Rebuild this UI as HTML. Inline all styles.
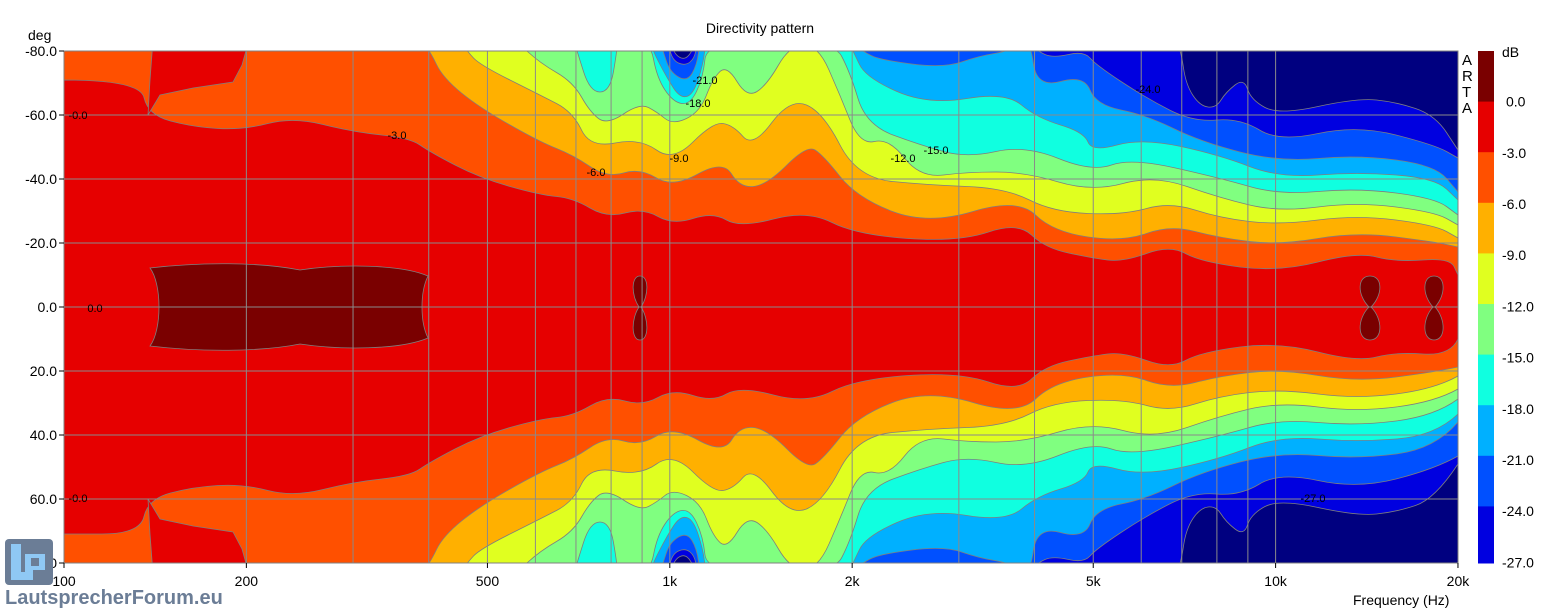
<!DOCTYPE html>
<html><head><meta charset="utf-8">
<style>
html,body{margin:0;padding:0;background:#fff;}
svg{display:block;font-family:"Liberation Sans",Arial,sans-serif;}
</style></head>
<body>
<svg id="s" width="1558" height="614" viewBox="0 0 1558 614" xmlns="http://www.w3.org/2000/svg">
<defs><clipPath id="pc"><rect x="64" y="51" width="1394" height="512"/></clipPath></defs>
<rect x="64" y="51" width="1394" height="512" fill="#000080"/>
<g id="fills" clip-path="url(#pc)"></g>
<g id="grid" stroke="#8a8a8a" stroke-width="1"></g>
<rect x="64" y="51" width="1394" height="512" fill="none" stroke="#808080"/>
<g font-size="11" fill="#000">
<text x="95" y="312" text-anchor="middle">0.0</text>
<text x="78" y="119" text-anchor="middle">-0.0</text>
<text x="78" y="502" text-anchor="middle">-0.0</text>
<text x="397" y="139" text-anchor="middle">-3.0</text>
<text x="596" y="176" text-anchor="middle">-6.0</text>
<text x="679" y="162" text-anchor="middle">-9.0</text>
<text x="903" y="162" text-anchor="middle">-12.0</text>
<text x="936" y="154" text-anchor="middle">-15.0</text>
<text x="698" y="107" text-anchor="middle">-18.0</text>
<text x="705" y="84" text-anchor="middle">-21.0</text>
<text x="1148" y="93" text-anchor="middle">-24.0</text>
<text x="1313" y="502" text-anchor="middle">-27.0</text>
</g>
<text x="760" y="33" text-anchor="middle" font-size="14">Directivity pattern</text>
<text x="28" y="40" font-size="14">deg</text>
<g id="ylab" font-size="14" text-anchor="end"></g>
<g id="xlab" font-size="14" text-anchor="middle"></g>
<text x="1353" y="605" font-size="14">Frequency (Hz)</text>
<text x="1462" y="65" font-size="15">A</text>
<text x="1462" y="81" font-size="15">R</text>
<text x="1462" y="97" font-size="15">T</text>
<text x="1462" y="113" font-size="15">A</text>
<g id="cbar"></g>
<g id="cblab" font-size="14"></g>
<rect x="5" y="539" width="48" height="46" rx="4" fill="#6b7d96"/>
<path d="M11 544 h10 v28 h12 v8 h-22 z" fill="#8fc8f4"/>
<path d="M25 554 h20 v16 h-12 v10 h-8 z" fill="#8fc8f4"/>
<path d="M31 558 h8 v8 h-8 z" fill="#6b7d96"/>
<text x="5" y="604" font-size="20" font-weight="bold" fill="#6b7d96">LautsprecherForum.eu</text>
</svg>
<script>
const NS="http://www.w3.org/2000/svg";
function el(t,a,p){const e=document.createElementNS(NS,t);for(const k in a)e.setAttribute(k,a[k]);p.appendChild(e);return e;}
const levels=[
["#0000e0",[[64,40],[670,40],[675,55],[685,60],[693,50],[694,40],[1175,40],[1181,51],[1186,85],[1200,106],[1216,108],[1226,92],[1244,78],[1251,100],[1279,115],[1357,98],[1396,102],[1435,115],[1458,150]]],
["#0050ff",[[64,40],[668,40],[672,60],[685,66],[695,58],[697,40],[1030,40],[1037,51],[1053,58],[1084,51],[1096,65],[1146,98],[1193,122],[1240,118],[1279,142],[1357,125],[1435,145],[1458,158]]],
["#00b0ff",[[64,40],[660,40],[663,51],[670,72],[687,82],[697,65],[700,40],[850,40],[862,51],[880,60],[944,68],[979,56],[1010,51],[1018,40],[1030,40],[1037,88],[1084,75],[1096,105],[1146,115],[1201,142],[1279,162],[1357,155],[1435,165],[1458,192]]],
["#10ffe0",[[64,40],[650,40],[653,51],[667,78],[680,98],[693,95],[703,65],[706,40],[848,40],[853,51],[866,78],[928,105],[1006,92],[1037,118],[1084,132],[1092,152],[1142,138],[1220,155],[1279,178],[1357,172],[1435,178],[1458,200]]],
["#80ff80",[[64,40],[574,40],[577,51],[590,92],[610,92],[617,51],[617,40],[650,40],[657,78],[673,102],[690,105],[703,78],[707,40],[833,40],[850,72],[866,125],[920,145],[967,158],[1025,145],[1092,172],[1131,158],[1220,178],[1279,195],[1357,188],[1435,198],[1458,215]]],
["#e0ff20",[[64,40],[515,40],[540,63],[573,82],[590,112],[607,125],[640,103],[657,112],[673,125],[700,112],[713,78],[727,65],[747,98],[767,85],[790,45],[818,45],[840,95],[860,145],[889,138],[920,178],[967,172],[1025,172],[1092,192],[1154,175],[1220,198],[1279,212],[1357,202],[1435,212],[1458,225]]],
["#ffb000",[[64,40],[460,40],[467,51],[480,65],[540,95],[573,112],[590,148],[640,138],[673,162],[713,122],[733,125],[753,148],[790,98],[823,112],[857,178],[928,185],[1006,188],[1053,212],[1123,215],[1170,202],[1220,218],[1279,225],[1357,215],[1435,225],[1458,238]]],
["#ff5000",[[64,40],[420,40],[430,51],[443,78],[480,108],[540,142],[573,155],[607,178],[640,168],[673,188],[723,160],[740,188],[767,185],[807,145],[823,155],[857,198],[928,225],[1018,198],[1053,232],[1123,242],[1170,225],[1220,238],[1279,245],[1357,232],[1435,242],[1458,247]]],
["#e60000",[[64,80],[140,80],[148,115],[193,127],[243,130],[293,117],[353,132],[410,138],[430,152],[480,178],[540,195],[573,198],[607,218],[643,208],[673,225],[713,212],[740,228],[807,210],[857,235],[959,242],[1018,222],[1045,248],[1092,258],[1123,262],[1170,245],[1201,262],[1279,272],[1357,252],[1396,262],[1450,258],[1458,275]]]
];
function smooth(pts,start){
  let d=(start?"M":"L")+pts[0][0]+" "+pts[0][1];
  for(let i=1;i<pts.length-1;i++){
    const mx=(pts[i][0]+pts[i+1][0])/2, my=(pts[i][1]+pts[i+1][1])/2;
    d+=` Q${pts[i][0]} ${pts[i][1]} ${mx} ${my}`;
  }
  const l=pts[pts.length-1];d+=` L${l[0]} ${l[1]}`;return d;
}
const F=document.getElementById("fills");
const st={stroke:"#7f7f7f","stroke-width":"0.8"};
for(const [c,pts] of levels){
  const bot=pts.slice().reverse().map(p=>[p[0],614-p[1]]);
  el("path",Object.assign({d:smooth(pts,true)+" "+smooth(bot,false)+" Z",fill:c},st),F);
}
const pocket=[[153,40],[249,40],[242,65],[233,82],[193,88],[160,95],[148,115],[150,80]];
el("polygon",Object.assign({points:pocket.map(p=>p[0]+","+p[1]).join(" "),fill:"#e60000"},st),F);
el("polygon",Object.assign({points:pocket.map(p=>p[0]+","+(614-p[1])).join(" "),fill:"#e60000"},st),F);
el("path",Object.assign({d:"M150 268 C200 262 260 262 300 270 C340 264 400 264 428 276 C420 292 420 322 428 338 C400 350 340 350 300 344 C260 352 200 352 150 346 C162 330 162 284 150 268 Z",fill:"#7a0000"},st),F);
function blob(x,w){el("path",Object.assign({d:`M${x} 276 C${x+w} 276 ${x+w} 295 ${x+1} 307 C${x+w} 319 ${x+w} 340 ${x} 340 C${x-w} 340 ${x-w} 319 ${x-1} 307 C${x-w} 295 ${x-w} 276 ${x} 276 Z`,fill:"#7a0000"},st),F);}
blob(640,9);blob(1370,13);blob(1434,12);
const G=document.getElementById("grid");
const X=f=>64+605.8*Math.log10(f/100);
let fs=[];for(let f=200;f<1000;f+=100)fs.push(f);for(let f=1000;f<10000;f+=1000)fs.push(f);fs.push(10000);
for(const f of fs){const x=X(f);el("line",{x1:x,y1:51,x2:x,y2:563},G);}
for(let d=-60;d<=60;d+=20){const y=307+d*3.2;el("line",{x1:64,y1:y,x2:1458,y2:y},G);}
const YL=document.getElementById("ylab");
for(let d=-80;d<=80;d+=20){const y=307+d*3.2;const t=el("text",{x:57,y:y+5},YL);t.textContent=d.toFixed(1);el("line",{x1:59,y1:y,x2:64,y2:y,stroke:"#000"},YL);}
const XL=document.getElementById("xlab");
[[100,"100"],[200,"200"],[500,"500"],[1000,"1k"],[2000,"2k"],[5000,"5k"],[10000,"10k"],[20000,"20k"]].forEach(([f,l])=>{const x=X(f);const t=el("text",{x:x,y:586},XL);t.textContent=l;el("line",{x1:x,y1:563,x2:x,y2:568,stroke:"#000"},XL);});
const CB=document.getElementById("cbar");
const cc=["#7a0000","#e60000","#ff5000","#ffb000","#e0ff20","#80ff80","#10ffe0","#00b0ff","#0050ff","#0000e0"];
for(let i=0;i<10;i++){const y0=51+i*50.6,h=(i==9?563-y0:50.6);el("rect",{x:1478,y:y0,width:16,height:h+0.5,fill:cc[i]},CB);}
const CL=document.getElementById("cblab");
let t=el("text",{x:1502,y:57},CL);t.textContent="dB";
for(let i=0;i<=9;i++){const y=101.6+i*51.2;const tt=el("text",{x:i==0?1506:1502,y:y+5},CL);tt.textContent=(i==0?"0.0":(-3*i).toFixed(1));}
</script>
</body></html>
